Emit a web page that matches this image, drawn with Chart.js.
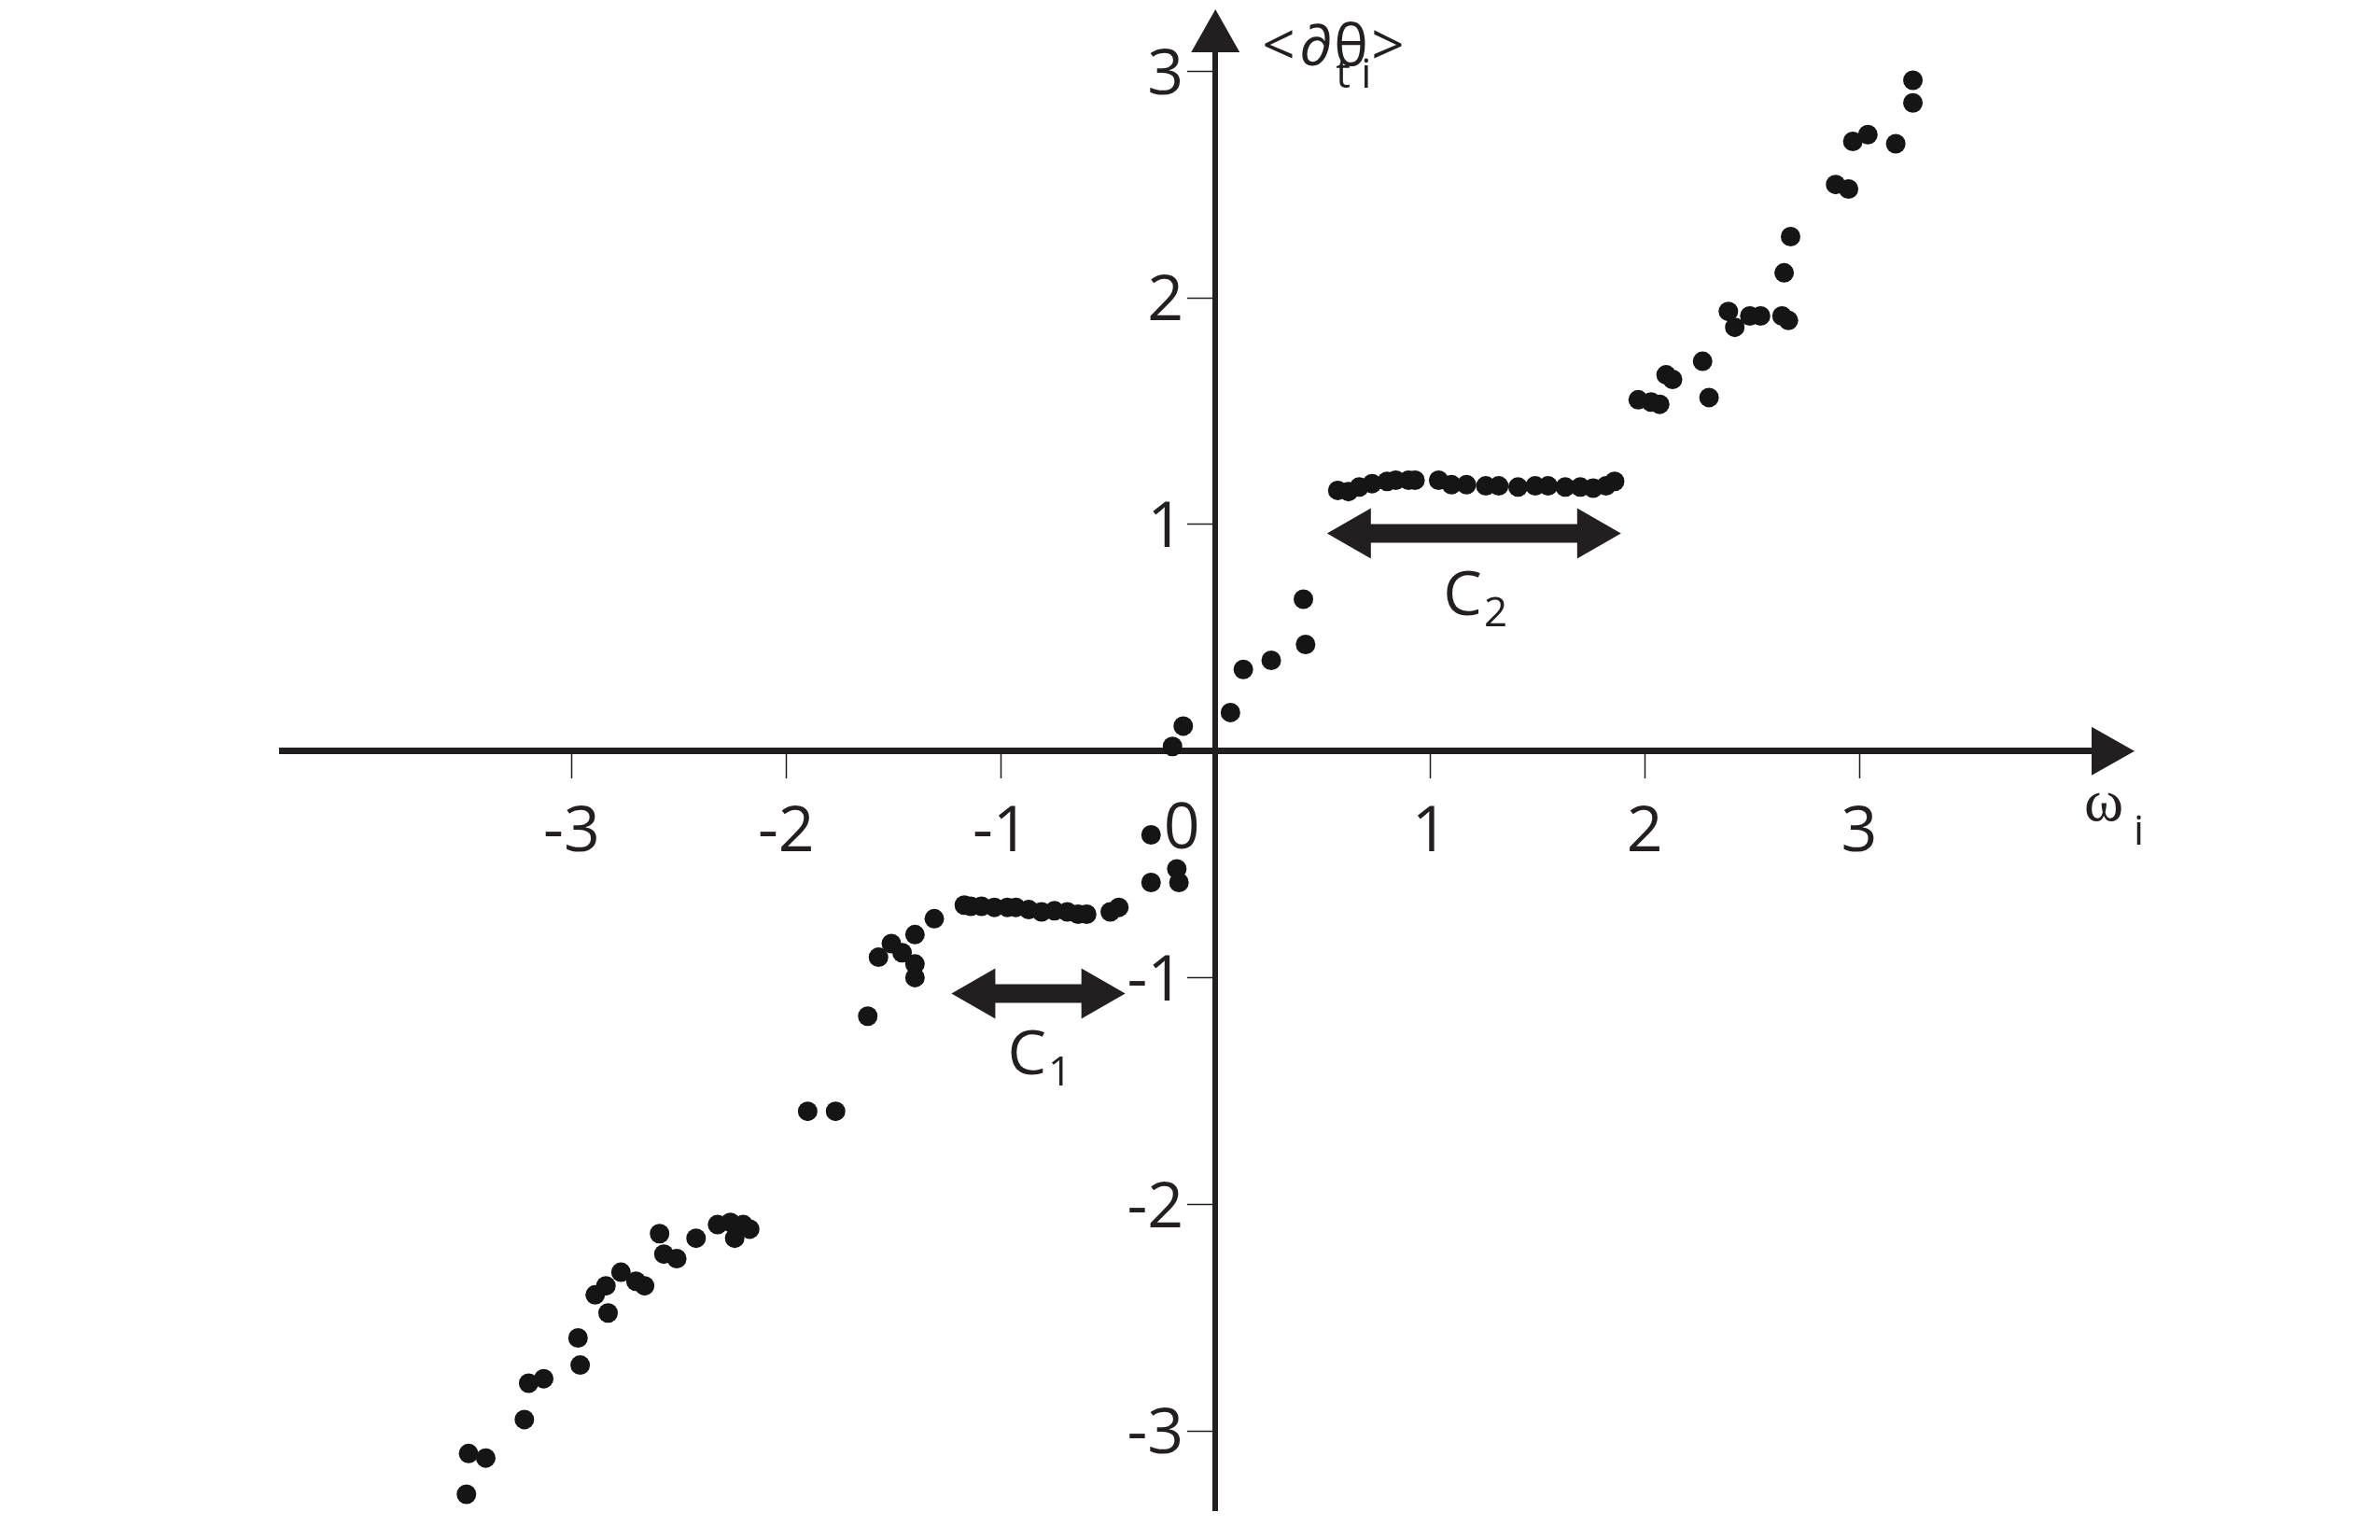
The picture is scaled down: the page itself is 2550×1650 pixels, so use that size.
<!DOCTYPE html>
<html>
<head>
<meta charset="utf-8">
<script src="https://cdn.jsdelivr.net/npm/chart.js@4.4.1/dist/chart.umd.min.js"></script>
<style>
  html, body { margin: 0; padding: 0; background: #fff; }
  #wrap { width: 2550px; height: 1650px; }
</style>
</head>
<body>
<div id="wrap"><canvas id="chart" width="2550" height="1650"></canvas></div>
<script>
// natural frequency omega_i vs mean phase velocity <d_t theta_i>
const lowerOmega = [-3.49, -3.48, -3.40, -3.22, -3.20, -3.13, -2.97, -2.96, -2.89, -2.84, -2.83, -2.77, -2.70, -2.66,
  -2.59, -2.57, -2.51, -2.42, -2.32, -2.26, -2.20, -2.17, -2.24, -1.90, -1.77];
const lowerRate = [-3.28, -3.10, -3.12, -2.95, -2.79, -2.77, -2.59, -2.71, -2.40, -2.36, -2.48, -2.30, -2.34, -2.36,
  -2.13, -2.22, -2.24, -2.15, -2.09, -2.08, -2.09, -2.11, -2.15, -1.59, -1.59];

const kneeOmega = [-1.62, -1.57, -1.51, -1.46, -1.40, -1.40, -1.40, -1.31];
const kneeRate = [-1.17, -0.91, -0.85, -0.89, -0.94, -1.00, -0.81, -0.74];

const c1Omega = [-1.17, -1.14, -1.09, -1.03, -0.97, -0.93, -0.87, -0.81, -0.75, -0.69, -0.64, -0.60, -0.49, -0.45];
const c1Rate = [-0.68, -0.685, -0.685, -0.69, -0.69, -0.69, -0.70, -0.71, -0.705, -0.71, -0.72, -0.72, -0.71, -0.69];

const centerOmega = [-0.30, -0.30, -0.18, -0.17, -0.20, -0.15, 0.07, 0.13, 0.26, 0.42, 0.41];
const centerRate = [-0.37, -0.58, -0.52, -0.58, 0.02, 0.11, 0.17, 0.36, 0.40, 0.47, 0.67];

const c2Omega = [0.57, 0.62, 0.67, 0.73, 0.80, 0.84, 0.90, 0.93, 1.04, 1.10, 1.17, 1.26, 1.32, 1.41, 1.49, 1.55,
  1.63, 1.70, 1.76, 1.82, 1.86];
const c2Rate = [1.15, 1.145, 1.165, 1.18, 1.19, 1.195, 1.195, 1.195, 1.195, 1.175, 1.175, 1.17, 1.17, 1.165, 1.17,
  1.17, 1.165, 1.165, 1.16, 1.17, 1.19];

const upperOmega = [1.97, 2.03, 2.07, 2.10, 2.13, 2.27, 2.30, 2.39, 2.42, 2.49, 2.54, 2.64, 2.67, 2.65, 2.68,
  2.89, 2.95, 2.97, 3.04, 3.17, 3.25, 3.25];
const upperRate = [1.55, 1.54, 1.53, 1.66, 1.64, 1.72, 1.56, 1.94, 1.87, 1.92, 1.92, 1.92, 1.90, 2.11, 2.27,
  2.50, 2.48, 2.69, 2.72, 2.68, 2.86, 2.96];

const xTicks = [-3, -2, -1, 0, 1, 2, 3];
const yTicks = [-3, -2, -1, 1, 2, 3];

// frequency-locked clusters C1, C2
const clusterSub = ['1', '2'];
const clusterFrom = [-1.23, 0.52];
const clusterTo = [-0.42, 1.89];
const clusterLevel = [-1.07, 0.96];

const ink = '#231f20';
const sans = "'Open Sans', 'Noto Sans', 'DejaVu Sans', sans-serif";

function toPoints(xs, ys) {
  return xs.map((v, i) => ({ x: v, y: ys[i] }));
}

const points = [].concat(
  toPoints(lowerOmega, lowerRate),
  toPoints(kneeOmega, kneeRate),
  toPoints(c1Omega, c1Rate),
  toPoints(centerOmega, centerRate),
  toPoints(c2Omega, c2Rate),
  toPoints(upperOmega, upperRate)
);

function drawDoubleArrow(ctx, x1, x2, y) {
  const head = 47, half = 27, shaft = 10;
  ctx.beginPath();
  ctx.moveTo(x1, y);
  ctx.lineTo(x1 + head, y - half);
  ctx.lineTo(x1 + head, y - shaft);
  ctx.lineTo(x2 - head, y - shaft);
  ctx.lineTo(x2 - head, y - half);
  ctx.lineTo(x2, y);
  ctx.lineTo(x2 - head, y + half);
  ctx.lineTo(x2 - head, y + shaft);
  ctx.lineTo(x1 + head, y + shaft);
  ctx.lineTo(x1 + head, y + half);
  ctx.closePath();
  ctx.fill();
}

const axisDecor = {
  id: 'axisDecor',
  afterDraw(chart) {
    const { ctx, chartArea, scales: { x, y } } = chart;
    const x0 = x.getPixelForValue(0);
    const y0 = y.getPixelForValue(0);
    ctx.save();
    ctx.fillStyle = ink;

    // arrow heads on both axes
    ctx.beginPath();
    ctx.moveTo(chartArea.right - 4, y0 - 26);
    ctx.lineTo(chartArea.right + 42, y0);
    ctx.lineTo(chartArea.right - 4, y0 + 26);
    ctx.closePath();
    ctx.fill();
    ctx.beginPath();
    ctx.moveTo(x0 - 26, chartArea.top + 4);
    ctx.lineTo(x0, chartArea.top - 42);
    ctx.lineTo(x0 + 26, chartArea.top + 4);
    ctx.closePath();
    ctx.fill();

    // the shared "0" sits left of the vertical axis
    ctx.font = '68px ' + sans;
    ctx.textAlign = 'center';
    ctx.textBaseline = 'alphabetic';
    ctx.fillText('0', x0 - 36, y0 + 104);

    // axis titles
    ctx.textAlign = 'left';
    ctx.font = '62px ' + sans;
    ctx.fillText('<', x0 + 50, 70);
    ctx.fillText('\u2202', x0 + 90, 70);
    ctx.fillText('\u03b8', x0 + 127, 70);
    ctx.fillText('>', x0 + 167, 70);
    ctx.font = '44px ' + sans;
    ctx.fillText('t', x0 + 129, 94);
    ctx.fillText('i', x0 + 156, 94);

    ctx.font = "64px 'Liberation Serif', 'DejaVu Serif', serif";
    ctx.fillText('\u03c9', chartArea.right - 12, y0 + 74);
    ctx.font = '44px ' + sans;
    ctx.fillText('i', chartArea.right + 41, y0 + 100);

    // cluster brackets
    clusterSub.forEach((sub, i) => {
      const xa = x.getPixelForValue(clusterFrom[i]);
      const xb = x.getPixelForValue(clusterTo[i]);
      const ya = y.getPixelForValue(clusterLevel[i]);
      drawDoubleArrow(ctx, xa, xb, ya);
      const mid = (xa + xb) / 2;
      ctx.font = '66px ' + sans;
      ctx.textAlign = 'left';
      const cw = ctx.measureText('C').width;
      ctx.fillText('C', mid - 33, ya + 87);
      ctx.font = '44px ' + sans;
      ctx.fillText(sub, mid - 33 + cw + 2, ya + 99);
    });
    ctx.restore();
  }
};

function zeroPadding(scale) {
  scale.paddingTop = 0;
  scale.paddingBottom = 0;
  scale.paddingLeft = 0;
  scale.paddingRight = 0;
}

new Chart(document.getElementById('chart'), {
  type: 'scatter',
  data: {
    datasets: [{
      data: points,
      backgroundColor: '#151515',
      borderWidth: 0,
      pointRadius: 10.5,
      pointHoverRadius: 10.5
    }]
  },
  options: {
    responsive: false,
    animation: false,
    devicePixelRatio: 1,
    layout: { padding: { left: 302, right: 305, top: 52, bottom: 32 } },
    plugins: { legend: { display: false }, tooltip: { enabled: false } },
    scales: {
      x: {
        type: 'linear',
        position: { y: 0 },
        min: -4.35,
        max: 4.1,
        afterBuildTicks: s => { s.ticks = xTicks.map(v => ({ value: v })); },
        afterFit: zeroPadding,
        grid: { drawOnChartArea: false, drawTicks: true, tickLength: 26, tickWidth: 1.5, tickColor: ink },
        border: { display: true, width: 7, color: ink },
        ticks: {
          autoSkip: false,
          maxRotation: 0,
          padding: 21,
          color: ink,
          font: { family: sans, size: 68 },
          callback: v => (v === 0 ? '' : String(v))
        }
      },
      y: {
        type: 'linear',
        position: { x: 0 },
        min: -3.35,
        max: 3.1,
        afterBuildTicks: s => { s.ticks = yTicks.map(v => ({ value: v })); },
        afterFit: zeroPadding,
        grid: { drawOnChartArea: false, drawTicks: true, tickLength: 27, tickWidth: 1.5, tickColor: ink },
        border: { display: true, width: 6, color: ink },
        ticks: {
          autoSkip: false,
          labelOffset: 5,
          color: ink,
          font: { family: sans, size: 68 },
          // labels are right-aligned on the axis line itself, an en space pushes them clear of the tick
          callback: v => String(v) + '\u2002'
        }
      }
    }
  },
  plugins: [axisDecor]
});
</script>
</body>
</html>
